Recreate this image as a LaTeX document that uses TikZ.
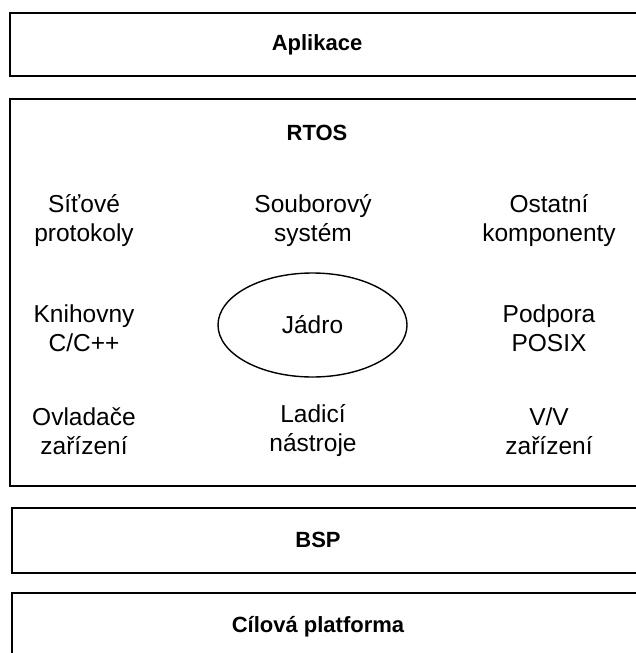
\documentclass[tikz,border=0pt]{standalone}
\usepackage{fontspec}
\setmainfont{Liberation Sans}
\usetikzlibrary{shapes.geometric}
\begin{document}
\begin{tikzpicture}[x=1pt,y=-1pt,
  layer/.style={draw=black,line width=1.6pt},
  title/.style={font=\fontsize{22}{26}\selectfont\bfseries,inner sep=0pt},
  part/.style={font=\fontsize{24.5}{29}\selectfont,align=center,inner sep=0pt},
  core/.style={draw=black,line width=1.4pt,ellipse,minimum width=189pt,minimum height=104pt,inner sep=0pt,font=\fontsize{24.5}{29}\selectfont}]
\useasboundingbox (0,0) rectangle (636,653);

% layers of the stack
\draw[layer] (690,13) -- (10,13) -- (10,76) -- (690,76);
\draw[layer] (690,99) -- (10,99) -- (10,486) -- (690,486);
\draw[layer] (690,508) -- (12,508) -- (12,573) -- (690,573);
\draw[layer] (690,593) -- (12,593) -- (12,700);

\node[title] (app) at (317,45) {Aplikace};
\node[title] (rtos) at (317,133) {RTOS};
\node[title] (bsp) at (318,540) {BSP};
\node[title] (hw) at (318,627) {Cílová platforma};

% RTOS components
\node[part] (net) at (84,221) {Síťové\\protokoly};
\node[part] (fs) at (313,221) {Souborový\\systém};
\node[part] (other) at (549,221) {Ostatní\\komponenty};
\node[part] (lib) at (84,328) {Knihovny\\C/C++};
\node[core] (kernel) at (312.5,325) {Jádro};
\node[part] (posix) at (549,328) {Podpora\\POSIX};
\node[part] (drv) at (84,431) {Ovladače\\zařízení};
\node[part] (dbg) at (313,431) {Ladicí\\nástroje};
\node[part] (io) at (549,431) {V/V\\zařízení};
\end{tikzpicture}
\end{document}
